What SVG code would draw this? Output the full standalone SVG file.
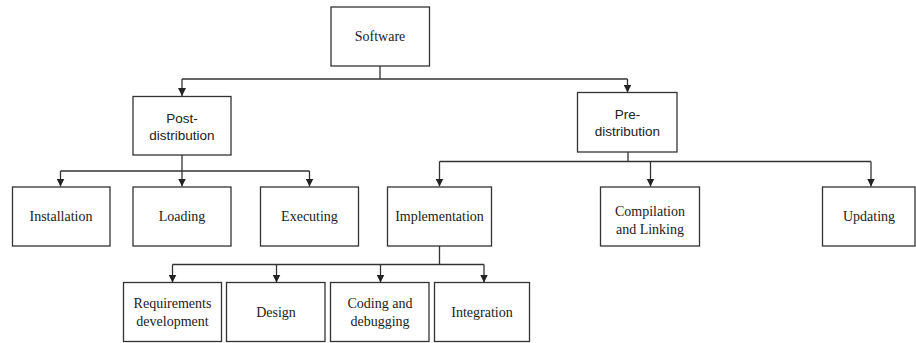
<svg xmlns="http://www.w3.org/2000/svg" width="916" height="343" viewBox="0 0 916 343">
<style>
.box{fill:#fff;stroke:#333;stroke-width:1.3}
.ln{fill:none;stroke:#333;stroke-width:1.3}
.t{font-family:"Liberation Serif","Times New Roman",serif;font-size:14px;fill:#222;text-anchor:middle}
.s{font-family:"Liberation Sans",Arial,sans-serif;font-size:13.5px;fill:#222;text-anchor:middle}
</style>
<defs>
<marker id="ah" markerUnits="userSpaceOnUse" markerWidth="8" markerHeight="8" refX="8" refY="4" orient="auto" viewBox="0 0 8 8">
<path d="M0,0 L8,4 L0,8 Z" fill="#222"/>
</marker>
</defs>
<rect width="916" height="343" fill="#fff"/>
<g id="connectors">
<path class="ln" d="M380,66 V79 M182,79 H627.5"/>
<path class="ln" d="M182,79 V96" marker-end="url(#ah)"/>
<path class="ln" d="M627.5,79 V92.5" marker-end="url(#ah)"/>
<path class="ln" d="M182,155 V171 M60.5,171 H309.5"/>
<path class="ln" d="M60.5,171 V186.5" marker-end="url(#ah)"/>
<path class="ln" d="M182,171 V186.5" marker-end="url(#ah)"/>
<path class="ln" d="M309.5,171 V186.5" marker-end="url(#ah)"/>
<path class="ln" d="M628,152 V161.5 M439.5,161.5 H871"/>
<path class="ln" d="M439.5,161.5 V186.5" marker-end="url(#ah)"/>
<path class="ln" d="M650.5,161.5 V186.5" marker-end="url(#ah)"/>
<path class="ln" d="M871,161.5 V186.5" marker-end="url(#ah)"/>
<path class="ln" d="M439.5,246 V264.5 M172.5,264.5 H484"/>
<path class="ln" d="M172.5,264.5 V282.5" marker-end="url(#ah)"/>
<path class="ln" d="M276.5,264.5 V282.5" marker-end="url(#ah)"/>
<path class="ln" d="M380.5,264.5 V282.5" marker-end="url(#ah)"/>
<path class="ln" d="M484,264.5 V282.5" marker-end="url(#ah)"/>
</g>
<g id="software"><rect class="box" x="331" y="7" width="98.5" height="59"/><text class="t" x="380" y="41">Software</text></g>
<g id="post-distribution"><rect class="box" x="133" y="96.5" width="98" height="58.5"/><text class="s" x="182" y="123">Post-</text><text class="s" x="182" y="140">distribution</text></g>
<g id="pre-distribution"><rect class="box" x="577.5" y="92.5" width="99.5" height="59.5"/><text class="s" x="627.5" y="119">Pre-</text><text class="s" x="627.5" y="136">distribution</text></g>
<g id="installation"><rect class="box" x="12.5" y="187" width="97.5" height="59"/><text class="t" x="61" y="221">Installation</text></g>
<g id="loading"><rect class="box" x="133" y="187" width="98" height="59"/><text class="t" x="182" y="221">Loading</text></g>
<g id="executing"><rect class="box" x="260.5" y="187" width="98" height="59"/><text class="t" x="309.5" y="221">Executing</text></g>
<g id="implementation"><rect class="box" x="387.5" y="187" width="104" height="59"/><text class="t" x="439.5" y="221">Implementation</text></g>
<g id="compilation"><rect class="box" x="600.5" y="187" width="99" height="59"/><text class="t" x="650" y="216">Compilation</text><text class="t" x="650" y="234">and Linking</text></g>
<g id="updating"><rect class="box" x="822.5" y="187" width="92.5" height="59"/><text class="t" x="869" y="221">Updating</text></g>
<g id="requirements"><rect class="box" x="123.5" y="282.5" width="98" height="59"/><text class="t" x="172.5" y="308">Requirements</text><text class="t" x="172.5" y="326">development</text></g>
<g id="design"><rect class="box" x="226.5" y="282.5" width="98.5" height="59"/><text class="t" x="276" y="317">Design</text></g>
<g id="coding"><rect class="box" x="330.5" y="282.5" width="98.5" height="59"/><text class="t" x="380" y="308">Coding and</text><text class="t" x="380" y="326">debugging</text></g>
<g id="integration"><rect class="box" x="434.5" y="282.5" width="95" height="59"/><text class="t" x="482" y="317">Integration</text></g>
</svg>
